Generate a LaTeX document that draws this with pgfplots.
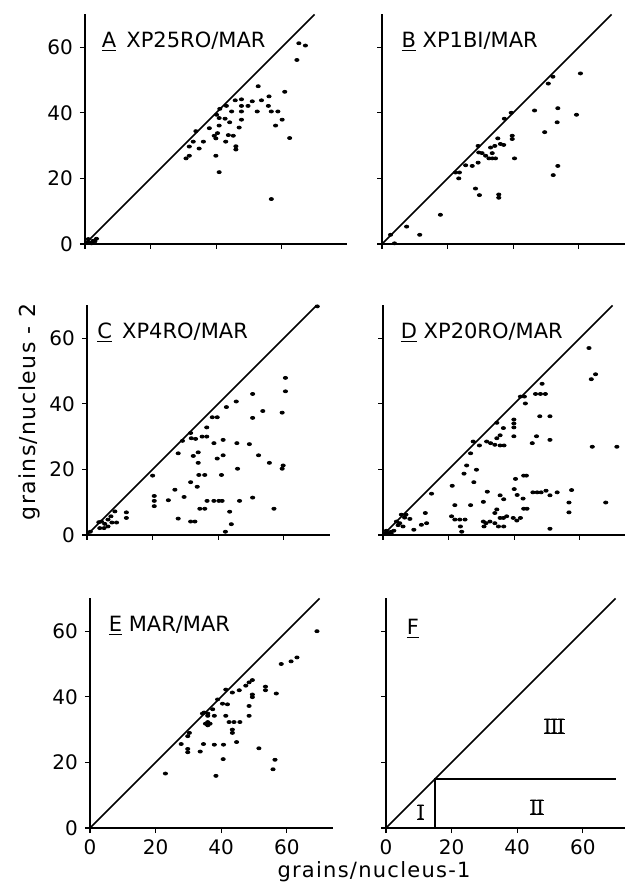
\documentclass[border=0pt]{standalone}
\usepackage{fontspec}
\setmainfont{DejaVu Sans}
\newfontfamily\lblfont[LetterSpace=6]{DejaVu Sans}
\newfontfamily\romfont{Liberation Serif}
\usepackage{pgfplots}
\pgfplotsset{compat=1.18}
\pgfplotsset{
  panel/.style={
    x=1.64pt, y=1.64pt, xmin=0, xmax=74, ymin=0, ymax=70,
    axis x line=bottom, axis y line=left,
    axis line style={-, line width=0.9pt},
    xtick={0,20,40,60}, ytick={0,20,40,60},
    tick align=outside, major tick length=2.5pt,
    tick style={black, line width=0.6pt},
    /pgf/number format/assume math mode=true,
    ticklabel style={font=\fontsize{10}{12}\selectfont},
    clip=false, anchor=south west,
  },
  noxl/.style={xticklabels={}},
  noyl/.style={yticklabels={}},
  dots/.style={only marks, mark=*, mark size=0.75pt, mark options={xscale=1.4, black, draw=black, fill=black}},
  diag/.style={line width=0.75pt, black},
}
\newcommand\ttl{\fontsize{10.5}{12}\selectfont}
\newcommand\RN[1]{{\romfont\fontsize{11}{13}\selectfont\setbox0\hbox{#1}\rlap{\rule{\wd0}{0.45pt}}\rlap{\rule[\dimexpr\ht0-0.45pt\relax]{\wd0}{0.45pt}}\box0}}
\begin{document}
\begin{tikzpicture}
\path[use as bounding box] (0,0) rectangle (312.5pt,442pt);
% ---------- A ----------
\begin{axis}[panel, noxl, xmax=80, at={(42.5pt,320pt)}]
\addplot[diag] coordinates {(0,0) (70,70)};
\addplot[dots] coordinates {(65.2,61.2)(67.2,60.5)(64.6,56.1)(52.8,48.1)(60.9,46.4)(56.1,45.0)(45.8,43.8)(47.7,44.1)(51.0,43.5)(53.8,43.8)(43.1,42.1)(47.7,42.1)(49.7,42.1)(55.9,42.1)(41.1,41.2)(44.7,40.4)(47.7,40.4)(52.5,40.4)(56.8,40.4)(58.8,40.4)(40.1,39.4)(40.9,38.4)(42.7,38.2)(44.1,37.1)(47.7,37.9)(60.1,37.9)(40.9,36.1)(47.0,35.5)(58.1,36.1)(37.9,35.3)(33.8,34.4)(39.4,33.0)(39.9,32.2)(40.4,33.8)(43.7,33.2)(45.2,33.0)(33.0,31.2)(36.1,31.2)(42.9,31.2)(31.8,29.7)(34.8,29.1)(46.0,29.8)(46.0,28.8)(31.8,26.9)(30.8,26.1)(39.9,26.9)(40.9,21.9)(56.8,13.7)(62.4,32.3)(0.5,0.5)(1.5,0.4)(2.5,1)(3.5,1.6)(1,1.5)(2,0.2)(3,0.8)};
\node[anchor=base west, font=\ttl] at (axis cs:3,60) {\underline{A}\, XP25RO/MAR};
\end{axis}
% ---------- B ----------
\begin{axis}[panel, noxl, noyl, at={(191pt,320pt)}]
\addplot[diag] coordinates {(0,0) (70,70)};
\addplot[dots] coordinates {(60.5,52.0)(52.1,51.0)(50.7,48.9)(46.5,40.7)(53.6,41.4)(59.3,39.4)(39.4,40.0)(37.3,38.2)(53.4,37.1)(49.6,34.1)(39.7,33.0)(39.7,32.0)(35.3,32.2)(36.1,30.5)(37.1,30.2)(34.4,29.9)(33.1,29.4)(29.3,29.9)(29.5,27.9)(30.5,27.7)(31.6,26.9)(33.6,27.7)(32.6,26.1)(33.6,26.1)(34.6,26.1)(40.4,26.1)(29.3,24.8)(27.5,23.8)(25.5,24.0)(53.6,23.8)(52.2,21.0)(22.4,21.8)(23.6,21.8)(23.4,20.0)(28.5,16.9)(29.7,14.9)(35.6,15.1)(35.6,14.1)(17.8,8.9)(7.5,5.3)(11.5,2.8)(2.6,2.8)(3.8,0.2)};
\node[anchor=base west, font=\ttl] at (axis cs:3.8,60) {\underline{B} XP1BI/MAR};
\end{axis}
% ---------- C ----------
\begin{axis}[panel, noxl, at={(43.5pt,174.5pt)}]
\addplot[diag] coordinates {(0,0) (70,70)};
\addplot[dots] coordinates {(70.2,69.7)(60.5,47.9)(60.5,43.8)(50.5,43.0)(45.5,40.7)(42.5,39.0)(53.6,37.8)(59.5,37.3)(38.2,35.9)(39.7,35.9)(50.5,35.7)(36.5,32.8)(31.6,31.1)(31.8,29.5)(33.1,29.3)(29.1,28.7)(35.1,30.0)(36.5,30.0)(38.7,28.0)(41.5,29.0)(45.7,28.0)(49.5,27.7)(27.8,24.9)(32.4,24.1)(33.9,25.2)(33.9,22.0)(39.7,23.3)(41.5,24.3)(52.3,24.3)(55.6,22.0)(59.8,21.2)(59.5,20.2)(45.9,20.2)(20.0,18.1)(34.1,18.3)(35.9,18.3)(41.0,18.3)(31.6,16.1)(33.6,14.7)(26.8,13.8)(20.5,11.9)(20.5,10.4)(20.5,8.8)(24.8,10.6)(29.6,11.6)(36.6,10.4)(38.7,10.4)(40.2,10.4)(41.2,10.4)(46.5,10.4)(50.5,11.4)(34.4,8.0)(35.9,8.0)(43.5,7.1)(57.0,8.0)(27.8,5.0)(31.6,4.1)(32.9,4.1)(44.0,3.3)(42.2,1.0)(12.0,6.9)(12.0,5.2)(9.0,3.8)(8.5,7.2)(4.4,4.1)(5.4,3.4)(6.4,4.7)(7.3,5.7)(3.9,2.1)(5.2,2.1)(6.4,2.6)(7.6,3.8)(3.6,3.9)(1,1)};
\node[anchor=base west, font=\ttl] at (axis cs:1,60) {\underline{C}\, XP4RO/MAR};
\end{axis}
% ---------- D ----------
\begin{axis}[panel, noxl, noyl, at={(191.5pt,174.5pt)}]
\addplot[diag] coordinates {(0,0) (70,70)};
\addplot[dots] coordinates {(34.7,34.2)(36.7,32.6)(35.7,30.4)(34.7,29.5)(31.6,28.5)(32.8,28.0)(34.1,27.5)(35.7,27.3)(36.9,27.3)(27.5,28.5)(29.4,27.3)(26.7,24.9)(25.5,21.2)(28.5,19.9)(24.7,18.7)(27.7,16.1)(21.1,15.0)(14.8,12.6)(31.8,13.2)(35.7,12.1)(30.6,10.1)(21.9,9.1)(26.7,9.1)(34.7,7.8)(34.1,6.7)(35.7,5.2)(36.7,5.2)(37.7,5.7)(12.9,6.7)(8.2,4.9)(6.6,5.3)(5.6,6.2)(7.0,6.2)(4.1,4.1)(5.1,3.6)(6.1,2.6)(4.6,3.0)(9.4,1.6)(11.7,3.1)(13.3,3.6)(20.9,5.7)(21.9,4.7)(23.4,4.7)(25.0,4.7)(30.6,4.1)(30.8,2.6)(31.4,3.6)(23.6,2.6)(24.0,1.0)(32.6,4.1)(34.1,3.6)(35.2,2.6)(0.5,0.3)(1.5,0.6)(2.5,1.0)(3.3,1.3)(1.0,1.3)(2.5,0.3)
(62.8,57.0)(64.8,49.0)(63.5,47.5)(48.5,46.1)(46.5,43.0)(48.0,43.0)(49.5,43.0)(41.9,42.2)(43.1,42.2)(43.4,40.1)(39.9,35.2)(39.9,34.0)(39.9,32.8)(47.8,36.2)(50.9,36.2)(39.9,30.1)(46.8,30.1)(45.5,28.0)(50.9,29.0)(63.8,26.9)(71.3,26.9)(40.4,17.1)(42.9,18.1)(43.7,18.1)(40.0,14.0)(40.9,12.2)(42.7,11.1)(45.7,13.0)(47.0,13.0)(48.2,13.0)(49.7,13.5)(50.9,12.1)(53.1,13.0)(57.5,13.7)(56.7,9.9)(56.7,6.9)(67.9,9.9)(36.8,10.9)(42.9,8.0)(43.9,8.0)(39.7,5.2)(40.8,4.4)(41.9,5.2)(50.9,1.9)(36.8,2.6)};
\node[anchor=base west, font=\ttl] at (axis cs:3.3,60) {\underline{D} XP20RO/MAR};
\end{axis}
% ---------- E ----------
\begin{axis}[panel, at={(45pt,28pt)}]
\addplot[diag] coordinates {(0,0) (70,70)};
\addplot[dots] coordinates {(69.2,60.0)(58.3,50.0)(61.3,50.8)(63.1,52.0)(49.5,45.1)(48.5,44.4)(47.5,43.4)(53.5,43.1)(53.5,42.0)(45.5,42.0)(43.4,41.3)(41.4,42.2)(38.9,39.2)(49.5,40.7)(49.5,39.9)(56.8,41.0)(40.4,37.9)(41.9,37.7)(48.5,37.2)(37.4,36.2)(34.8,35.2)(35.9,34.9)(34.3,34.9)(35.9,34.2)(37.9,34.2)(41.4,34.2)(48.5,34.2)(35.9,32.3)(35.9,31.3)(35.2,31.8)(36.6,31.8)(42.4,32.3)(43.9,32.3)(45.7,32.3)(43.4,30.0)(43.4,29.0)(30.3,29.0)(29.8,28.0)(27.8,25.6)(34.6,25.6)(37.9,25.4)(40.7,25.4)(44.7,26.2)(29.8,24.1)(29.8,23.1)(33.6,23.3)(51.5,24.3)(40.6,21.0)(56.4,20.8)(55.8,17.9)(38.4,15.9)(23.0,16.6)};
\node[anchor=base west, font=\ttl] at (axis cs:3.6,60) {\underline{E} MAR/MAR};
\end{axis}
% ---------- F ----------
\begin{axis}[panel, noyl, at={(193pt,28pt)}]
\addplot[diag] coordinates {(0,0) (70,70)};
\addplot[line width=0.75pt, black] coordinates {(15,0) (15,15) (70,15)};
\node[anchor=base west, font=\ttl] at (axis cs:4.2,59) {\underline{F}};
\node at (axis cs:10.6,4.8) {\RN{I}};
\node at (axis cs:46,6.3) {\RN{I\kern-0.03em I}};
\node at (axis cs:51.3,30.9) {\RN{I\kern-0.03em I\kern-0.03em I}};
\end{axis}
\node[rotate=90, anchor=base, font=\lblfont\fontsize{11}{13}\selectfont] at (17.5pt,236pt) {grains/nucleus - 2};
\node[anchor=base, font=\lblfont\fontsize{10.5}{12}\selectfont] at (187pt,3pt) {grains/nucleus-1};
\end{tikzpicture}
\end{document}
